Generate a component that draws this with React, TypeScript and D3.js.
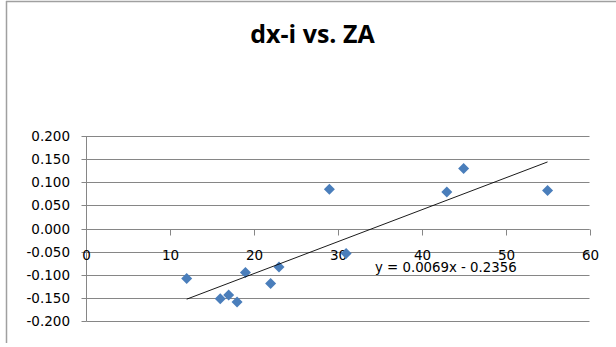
import React from "react";
import * as d3 from "d3";

const zaValues = [12, 16, 17, 18, 19, 22, 23, 29, 31, 43, 45, 55];
const dxiValues = [-0.108, -0.152, -0.144, -0.159, -0.095, -0.119, -0.083, 0.085, -0.054, 0.079, 0.130, 0.082];
const xTicks = [0, 10, 20, 30, 40, 50, 60];
const yTicks = [-0.2, -0.15, -0.1, -0.05, 0, 0.05, 0.1, 0.15, 0.2];
const trendSlope = 0.0069;
const trendIntercept = -0.2356;
const titleText = "dx-i vs. ZA";
const equationText = "y = 0.0069x - 0.2356";

const W = 616;
const H = 347;

export default function App() {
  const x = d3.scaleLinear().domain([0, 60]).range([86, 589.5]);
  const y = d3.scaleLinear().domain([-0.2, 0.2]).range([321, 136]);
  const fmt = d3
    .formatLocale({ decimal: ".", thousands: ",", grouping: [3], currency: ["$", ""], minus: "-" })
    .format(".3f");
  const xMin = d3.min(zaValues) as number;
  const xMax = d3.max(zaValues) as number;
  const trend = d3
    .line<number>()
    .x((d) => x(d))
    .y((d) => y(trendSlope * d + trendIntercept));
  const diamond = (cx: number, cy: number, r: number) =>
    `M${cx},${cy - r}L${cx + r},${cy}L${cx},${cy + r}L${cx - r},${cy}Z`;
  const font = "'DejaVu Sans', sans-serif";
  const grid = "#868686";
  const x0 = Math.round(x(0)) + 0.5;
  const y0 = Math.round(y(0)) + 0.5;

  return (
    <svg
      width={W}
      height={H}
      style={{ position: "absolute", left: 0, top: 0, background: "#fff" }}
    >
      <rect x={0} y={0} width={W} height={H} fill="#fff" />
      {/* border */}
      <line x1={6} y1={1.5} x2={W} y2={1.5} stroke="#a0a0a0" strokeWidth={1.5} />
      <line x1={6.5} y1={1} x2={6.5} y2={343} stroke="#a0a0a0" strokeWidth={1.5} />
      {/* title */}
      <text
        x={312.5}
        y={43}
        textAnchor="middle"
        fontFamily="'Open Sans', sans-serif"
        fontWeight="bold"
        fontSize={25}
        fill="#000"
      >
        {titleText}
      </text>
      {/* gridlines */}
      {yTicks.map((t) => {
        const yy = Math.round(y(t)) + 0.5;
        return (
          <g key={t}>
            <line x1={x0} x2={x(60)} y1={yy} y2={yy} stroke={grid} strokeWidth={1} />
            <line x1={x0 - 5} x2={x0} y1={yy} y2={yy} stroke={grid} strokeWidth={1} />
            <text
              x={70}
              y={yy}
              dy="0.36em"
              textAnchor="end"
              fontFamily={font}
              fontSize={13.5}
              fill="#000"
            >
              {fmt(t)}
            </text>
          </g>
        );
      })}
      {/* y axis */}
      <line x1={x0} x2={x0} y1={y(0.2)} y2={y(-0.2) + 0.5} stroke={grid} strokeWidth={1} />
      {/* x axis */}
      <line x1={x0} x2={x(60)} y1={y0} y2={y0} stroke={grid} strokeWidth={1} />
      {xTicks.map((t) => {
        const xx = Math.round(x(t)) + 0.5;
        return (
          <g key={t}>
            <line x1={xx} x2={xx} y1={y0} y2={y0 + 6} stroke={grid} strokeWidth={1} />
            <text
              x={xx}
              y={260}
              textAnchor="middle"
              fontFamily={font}
              fontSize={13.5}
              fill="#000"
            >
              {t}
            </text>
          </g>
        );
      })}
      {/* points */}
      {zaValues.map((v, i) => (
        <path key={i} d={diamond(x(v), y(dxiValues[i]), 5.5)} fill="#4A7EBB" />
      ))}
      {/* trendline */}
      <path d={trend([xMin, xMax]) || ""} fill="none" stroke="#000" strokeWidth={0.9} />
      <text x={375} y={272} fontFamily={font} fontSize={13.3} fill="#000">
        {equationText}
      </text>
    </svg>
  );
}
